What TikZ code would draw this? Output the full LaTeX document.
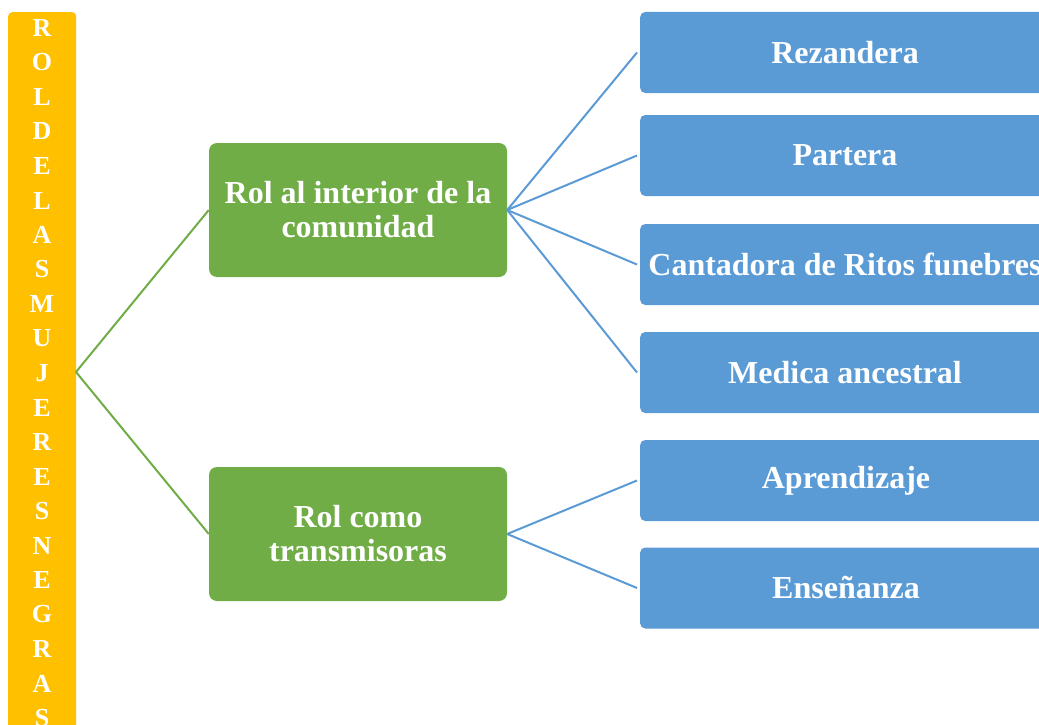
\documentclass[tikz,border=0pt]{standalone}
\usepackage{fontspec}
\setmainfont{Liberation Serif}
\definecolor{ybar}{HTML}{FFC000}
\definecolor{gbox}{HTML}{70AD47}
\definecolor{bbox}{HTML}{5B9BD5}
\begin{document}
\begin{tikzpicture}[x=1pt,y=-1pt,
  barbox/.style={fill=ybar,draw=none,rounded corners=4pt,anchor=north west,minimum width=68pt,minimum height=1000pt,inner sep=0pt},
  letter/.style={text=white,font=\fontsize{26}{26}\selectfont\bfseries,inner sep=0pt},
  greenbox/.style={fill=gbox,draw=none,rounded corners=8pt,minimum width=298pt,minimum height=134pt,text=white,font=\fontsize{32}{34}\selectfont\bfseries,align=center,inner sep=0pt},
  bluebox/.style={fill=bbox,draw=none,rounded corners=5pt,anchor=west,minimum width=420pt,minimum height=81pt,inner sep=0pt},
  bluetext/.style={text=white,font=\fontsize{32}{34}\selectfont\bfseries,inner sep=0pt},
  gline/.style={draw=gbox,line width=2pt},
  bline/.style={draw=bbox,line width=2pt}]
\useasboundingbox (0,0) rectangle (1039,725);
\clip (0,0) rectangle (1039,725);
\fill[white] (0,0) rectangle (1039,725);
% left bar
\node[barbox] (bar) at (8,12) {};
\foreach \ch [count=\i from 0] in {R,O,L,D,E,L,A,S,M,U,J,E,R,E,S,N,E,G,R,A,S}
  \node[letter] (l\i) at (42,{28+\i*34.5}) {\ch};
\coordinate (barpt) at (76,372);
% green boxes
\node[greenbox] (g1) at (358,210) {Rol al interior de la\\comunidad};
\node[greenbox] (g2) at (358,534) {Rol como\\transmisoras};
% blue boxes
\node[bluebox] (b1) at (640,52.5) {};
\node[bluebox] (b2) at (640,155.5) {};
\node[bluebox] (b3) at (640,264.5) {};
\node[bluebox] (b4) at (640,372.5) {};
\node[bluebox] (b5) at (640,480.5) {};
\node[bluebox] (b6) at (640,588) {};
\node[bluetext] (t1) at (845,52.5) {Rezandera};
\node[bluetext] (t2) at (845,155.5) {Partera};
\node[bluetext] (t3) at (845,264.5) {Cantadora de Ritos funebres};
\node[bluetext] (t4) at (845,372.5) {Medica ancestral};
\node[bluetext] (t5) at (846,480.5) {Aprendizaje};
\node[bluetext] (t6) at (846,588) {Enseñanza};
% connectors
\draw[gline] (barpt) -- (g1.west);
\draw[gline] (barpt) -- (g2.west);
\foreach \b in {b1,b2,b3,b4}
  \draw[bline] (g1.east) -- ([xshift=-3pt]\b.west);
\foreach \b in {b5,b6}
  \draw[bline] (g2.east) -- ([xshift=-3pt]\b.west);
\end{tikzpicture}
\end{document}
